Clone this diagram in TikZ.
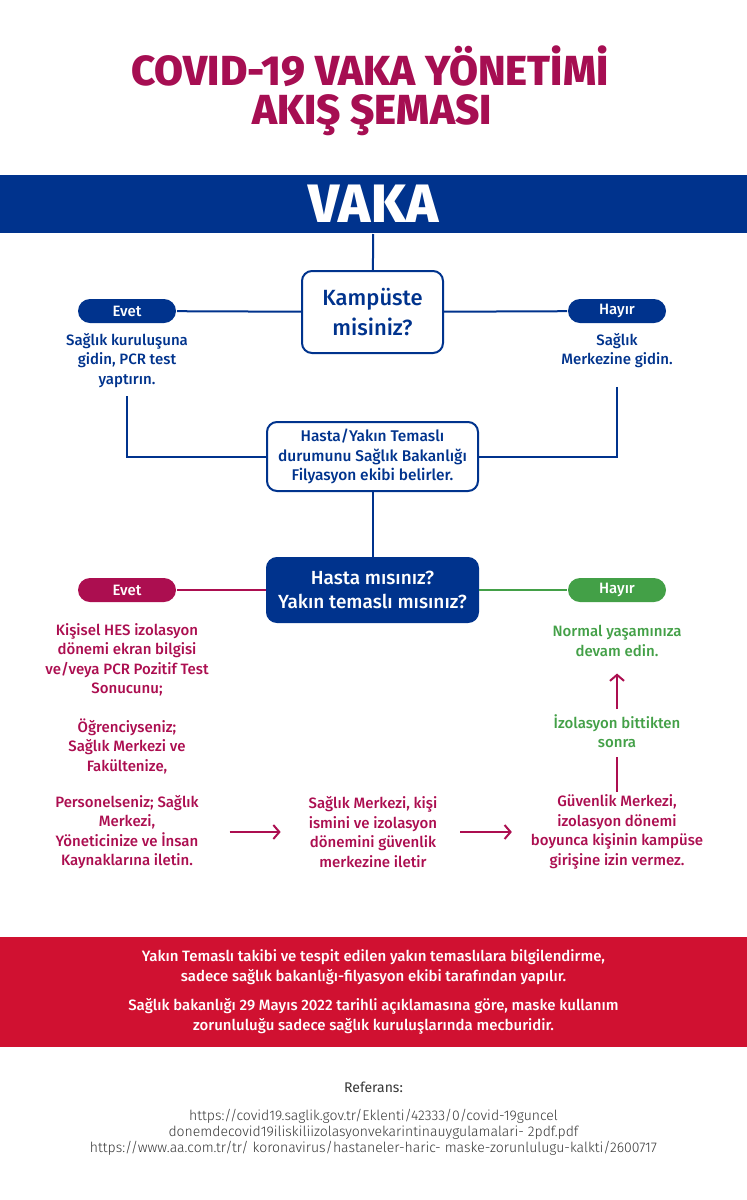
\documentclass[tikz,border=0pt]{standalone}
\usepackage{fontspec}
\setmainfont{Fira Sans}[UprightFont={* Medium}, BoldFont={* ExtraBold}]
\newfontfamily\reffont{Fira Sans Light}
\newfontfamily\refhead{Fira Sans}
\usetikzlibrary{positioning, arrows.meta}

\definecolor{vakablue}{RGB}{0,51,141}
\definecolor{titlered}{RGB}{166,14,82}
\definecolor{evetred}{RGB}{172,14,80}
\definecolor{hayirgreen}{RGB}{67,160,71}
\definecolor{notered}{RGB}{208,17,49}
\definecolor{refgray}{RGB}{55,55,55}

\begin{document}
\begin{tikzpicture}[%
    x=1pt, y=-1pt,
    >={Straight Barb[length=6pt, width=14pt]},
    line width=2pt,
    % Boxes
    pill/.style={fill=#1, text=white, rounded corners=12pt, minimum width=98pt, minimum height=24pt, inner sep=0pt, font=\fontsize{15}{16}\selectfont},
    qbox/.style={draw=vakablue, fill=white, rounded corners=10pt, align=center, inner sep=0pt, text=vakablue},
    band/.style={fill=#1, minimum width=747pt, inner sep=0pt, text=white, align=center},
    % Plain text
    txt/.style={inner sep=0pt, align=center, font=\fontsize{15}{19.5}\selectfont}
]
\fill[white] (0,0) rectangle (747,1200);
\useasboundingbox (0,0) rectangle (747,1200);

% --- 1. Title and VAKA band ---
\node[font=\bfseries\fontsize{42}{42}\selectfont, text=titlered, inner sep=0pt, anchor=base] (title1) at (370,85) {COVID-19 VAKA YÖNETİMİ};
\node[font=\bfseries\fontsize{42}{42}\selectfont, text=titlered, inner sep=0pt, anchor=base] (title2) at (372,124) {AKIŞ ŞEMASI};
\node[band=vakablue, minimum height=58pt, font=\bfseries\fontsize{54}{54}\selectfont] (vaka) at (373.5,204) {VAKA};

% --- 2. Kampuste question ---
\node[qbox, minimum width=141pt, minimum height=82pt, font=\fontsize{22}{30}\selectfont] (kamp) at (372.5,312) {Kampüste\\misiniz?};
\node[pill=vakablue] (evet1) at (127,311) {Evet};
\node[pill=vakablue] (hayir1) at (617,311) {Hayır};
\node[txt, text=vakablue, below=8pt of evet1] (gidin1) {Sağlık kuruluşuna\\gidin, PCR test\\yaptırın.};
\node[txt, text=vakablue, below=8pt of hayir1] (gidin2) {Sağlık\\Merkezine gidin.};

\draw[vakablue] (vaka) -- (kamp);
\draw[vakablue] (evet1) -- (kamp);
\draw[vakablue] (kamp) -- (hayir1);

% --- 3. Filyasyon box ---
\node[qbox, minimum width=211pt, minimum height=69pt, font=\fontsize{15.5}{19.5}\selectfont] (fil) at (372.5,456.5) {Hasta/Yakın Temaslı\\durumunu Sağlık Bakanlığı\\Filyasyon ekibi belirler.};

\draw[vakablue, shorten <=8pt] (gidin1.south) |- (fil.west);
\draw[vakablue, shorten <=18pt] (gidin2.south) |- (fil.east);

% --- 4. Hasta / yakin temasli question ---
\node[qbox, fill=vakablue, text=white, minimum width=211pt, minimum height=64pt, font=\fontsize{19}{24}\selectfont] (hasta) at (372.5,590) {Hasta mısınız?\\Yakın temaslı mısınız?};
\node[pill=evetred] (evet2) at (127,590) {Evet};
\node[pill=hayirgreen] (hayir2) at (617,590) {Hayır};

\draw[vakablue] (fil) -- (hasta);
\draw[evetred] (evet2) -- (hasta);
\draw[hayirgreen] (hasta) -- (hayir2);

% Evet column
\node[txt, text=evetred] (hes) at (127,660) {Kişisel HES izolasyon\\dönemi ekran bilgisi\\ve/veya PCR Pozitif Test\\Sonucunu;};
\node[txt, text=evetred] (ogr) at (127,746) {Öğrenciyseniz;\\Sağlık Merkezi ve\\Fakültenize,};
\node[txt, text=evetred] (pers) at (127,832) {Personelseniz; Sağlık\\Merkezi,\\Yöneticinize ve İnsan\\Kaynaklarına iletin.};
\node[txt, text=evetred] (smerk) at (373,832) {Sağlık Merkezi, kişi\\ismini ve izolasyon\\dönemini güvenlik\\merkezine iletir};
\node[txt, text=evetred] (guv) at (617,832) {Güvenlik Merkezi,\\izolasyon dönemi\\boyunca kişinin kampüse\\girişine izin vermez.};

% Hayir column
\node[txt, text=hayirgreen] (izo) at (617,731) {İzolasyon bittikten\\sonra};
\node[txt, text=hayirgreen] (normal) at (617,641) {Normal yaşamınıza\\devam edin.};

% Connections
\draw[->, evetred, shorten <=30pt, shorten >=27pt] (pers) -- (smerk);
\draw[->, evetred, shorten <=22pt, shorten >=18pt] (smerk) -- (guv);
\draw[evetred, shorten <=2pt, shorten >=8pt] (guv) -- (izo);
\draw[->, evetred, shorten <=4pt, shorten >=16pt] (izo) -- (normal);

% --- 5. Note band and references ---
\node[band=notered, minimum height=110pt, font=\fontsize{15}{19.5}\selectfont] (note) at (373.5,992) {Yakın Temaslı takibi ve tespit edilen yakın temaslılara bilgilendirme,\\sadece sağlık bakanlığı-filyasyon ekibi tarafından yapılır.\\[10pt]Sağlık bakanlığı 29 Mayıs 2022 tarihli açıklamasına göre, maske kullanım\\zorunluluğu sadece sağlık kuruluşlarında mecburidir.};

\node[txt, text=refgray, font=\refhead\fontsize{14}{16}\selectfont] (ref) at (373.5,1087) {Referans:};
\node[txt, text=refgray, font=\reffont\fontsize{14}{16}\selectfont, below=15pt of ref] (urls) {https://covid19.saglik.gov.tr/Eklenti/42333/0/covid-19guncel\\donemdecovid19iliskiliizolasyonvekarintinauygulamalari- 2pdf.pdf\\https://www.aa.com.tr/tr/ koronavirus/hastaneler-haric- maske-zorunlulugu-kalkti/2600717};

\end{tikzpicture}
\end{document}
